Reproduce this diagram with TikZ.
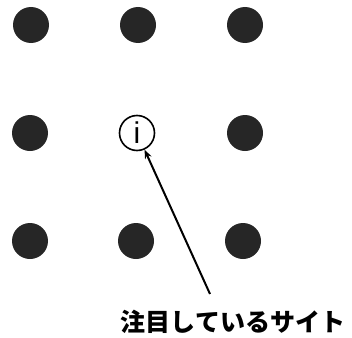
\documentclass[tikz,border=0pt]{standalone}
\usepackage{fontspec}
\setmainfont{Liberation Sans}
\newfontfamily\cjk{Noto Sans CJK JP}
\usetikzlibrary{arrows.meta}
\begin{document}
\begin{tikzpicture}[x=1pt,y=-1pt,
  site/.style={circle,fill=black!85,minimum size=36pt,inner sep=0pt},
  focus/.style={circle,draw=black,line width=1.6pt,minimum size=35pt,inner sep=0pt,font=\fontsize{30}{30}\selectfont},
  lbl/.style={font=\cjk\bfseries\fontsize{25}{25}\selectfont,inner sep=0pt}]
\useasboundingbox (0,0) rectangle (352,337);
\node[site] (a1) at (31,25) {};
\node[site] (a2) at (138,25) {};
\node[site] (a3) at (245,25) {};
\node[site] (b1) at (30,133) {};
\node[focus] (i) at (137,133) {i};
\node[site] (b3) at (245,133) {};
\node[site] (c1) at (30,241) {};
\node[site] (c2) at (136,241) {};
\node[site] (c3) at (243,241) {};
\node[lbl] (t) at (233,322) {注目しているサイト};
\coordinate (s) at (210,294);
\draw[line width=2pt,-{Stealth[length=9pt,width=7pt]}] (s) -- (i);
\end{tikzpicture}
\end{document}
